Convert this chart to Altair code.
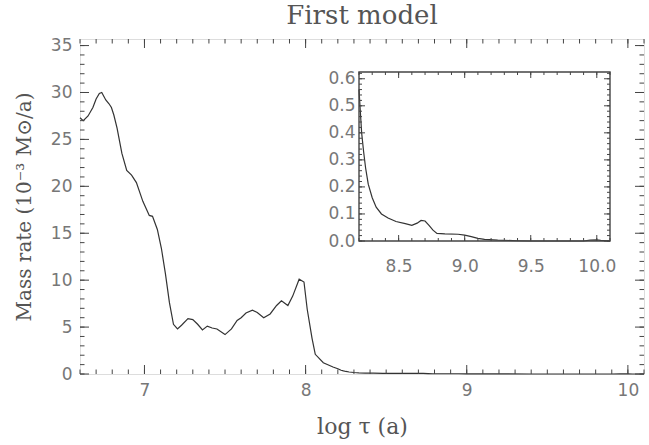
import altair as alt
import pandas as pd

# ---------------- data ----------------
main_x = [6.60, 6.62, 6.65, 6.68, 6.70, 6.72, 6.735, 6.76, 6.78, 6.795, 6.81, 6.83,
          6.86, 6.89, 6.92, 6.95, 6.99, 7.03, 7.05, 7.08, 7.105, 7.13, 7.155, 7.18,
          7.205, 7.23, 7.27, 7.30, 7.33, 7.36, 7.39, 7.42, 7.45, 7.50, 7.54, 7.575,
          7.60, 7.63, 7.67, 7.70, 7.74, 7.78, 7.82, 7.85, 7.89, 7.92, 7.96, 7.99,
          8.01, 8.04, 8.06, 8.11, 8.17]
main_y = [27.3, 27.0, 27.5, 28.4, 29.3, 29.9, 30.0, 29.2, 28.8, 28.4, 27.6, 26.2,
          23.5, 21.7, 21.2, 20.4, 18.4, 16.9, 16.8, 15.4, 13.4, 10.7, 7.6, 5.3,
          4.8, 5.2, 5.9, 5.8, 5.3, 4.7, 5.1, 4.9, 4.8, 4.2, 4.8, 5.7,
          6.0, 6.5, 6.8, 6.55, 6.0, 6.4, 7.3, 7.8, 7.3, 8.3, 10.1, 9.8,
          6.9, 3.8, 2.1, 1.2, 0.75]
tail_x = [8.20, 8.21, 8.22, 8.235, 8.25, 8.27, 8.30, 8.33, 8.37, 8.42, 8.48, 8.55,
          8.60, 8.64, 8.67, 8.70, 8.73, 8.76, 8.79, 8.85, 8.95, 9.00, 9.05, 9.10,
          9.15, 9.25, 9.40, 9.50, 9.90, 9.95, 10.00, 10.03, 10.10]
tail_y = [0.56, 0.48, 0.40, 0.33, 0.27, 0.21, 0.16, 0.125, 0.10, 0.085, 0.072, 0.064,
          0.058, 0.066, 0.076, 0.074, 0.058, 0.040, 0.028, 0.026, 0.025, 0.022, 0.016, 0.010,
          0.006, 0.003, 0.001, 0.0, 0.0, 0.003, 0.004, 0.002, 0.0]

main_xlabels = [7, 8, 9, 10]
main_ylabels = [0, 5, 10, 15, 20, 25, 30, 35]
main_xminor = [round(6.6 + 0.1 * i, 2) for i in range(36)]
main_yminor = list(range(0, 36))
inset_xlabels = [8.5, 9.0, 9.5, 10.0]
inset_ylabels = [0.0, 0.1, 0.2, 0.3, 0.4, 0.5, 0.6]
inset_xminor = [round(8.2 + 0.1 * i, 2) for i in range(20)]
inset_yminor = [round(0.02 * i, 2) for i in range(32)]

df = pd.DataFrame({"x": main_x + tail_x, "y": main_y + tail_y})

# ---------------- layout ----------------
W, H = 564, 335
IN_L, IN_R, IN_T, IN_B = 279, 530, 33, 202
LINE = "#333333"
FRAME = "#444444"
LAB = "#777777"
TIT = "#555555"

sx_main = alt.Scale(domain=[6.6, 10.1], nice=False, zero=False)
sy_main = alt.Scale(domain=[0, 35.7], nice=False, zero=False)
sx_in = alt.Scale(domain=[8.2, 10.1], range=[IN_L, IN_R], nice=False, zero=False)
sy_in = alt.Scale(domain=[0, 0.625], range=[IN_B, IN_T], nice=False, zero=False)

lab_common = dict(labelFont="DejaVu Sans", labelFontSize=17, labelColor=LAB,
                  ticks=False, domain=False, grid=False)

ax_x_main = alt.Axis(values=main_xlabels, format="d", labelPadding=8,
                     title="log τ (a)", titleFont="DejaVu Serif",
                     titleFontSize=22, titleFontWeight="normal",
                     titleColor=TIT, titlePadding=18, **lab_common)
ax_y_main = alt.Axis(values=main_ylabels, format="d", labelPadding=8,
                     title="Mass rate (10⁻³ M⊙/a)", titleFont="DejaVu Serif",
                     titleFontSize=20, titleFontWeight="normal",
                     titleColor=TIT, titlePadding=16, **lab_common)
ax_x_in = alt.Axis(orient="bottom", offset=-(H - IN_B), values=inset_xlabels,
                   format=".1f", labelPadding=17, title="", **lab_common)
ax_y_in = alt.Axis(orient="left", offset=-IN_L, values=inset_ylabels,
                   format=".1f", labelPadding=4, title="", **lab_common)


def vticks(vals, scale, axis, y0, y1, width=1.0):
    return alt.Chart(pd.DataFrame({"x": vals})).mark_rule(
        color=FRAME, strokeWidth=width).encode(
        x=alt.X("x:Q", scale=scale, axis=axis),
        y=alt.value(y0), y2=alt.value(y1))


def hticks(vals, scale, axis, x0, x1, width=1.0):
    return alt.Chart(pd.DataFrame({"y": vals})).mark_rule(
        color=FRAME, strokeWidth=width).encode(
        y=alt.Y("y:Q", scale=scale, axis=axis),
        x=alt.value(x0), x2=alt.value(x1))


main_line = alt.Chart(df).mark_line(color=LINE, strokeWidth=1.2).encode(
    x=alt.X("x:Q", scale=sx_main, axis=ax_x_main),
    y=alt.Y("y:Q", scale=sy_main, axis=ax_y_main),
)

main_group = alt.layer(
    main_line,
    vticks(main_xminor, sx_main, ax_x_main, H, H - 4.5),
    vticks(main_xlabels, sx_main, ax_x_main, H, H - 9),
    vticks(main_xminor, sx_main, ax_x_main, 0, 4.5),
    vticks(main_xlabels, sx_main, ax_x_main, 0, 9),
    hticks(main_yminor, sy_main, ax_y_main, 0, 4.5),
    hticks(main_ylabels, sy_main, ax_y_main, 0, 9),
    hticks(main_yminor, sy_main, ax_y_main, W, W - 4.5),
    hticks(main_ylabels, sy_main, ax_y_main, W, W - 9),
)

inset_line = alt.Chart(df).transform_filter(alt.datum.x >= 8.2).mark_line(
    color=LINE, strokeWidth=1.2).encode(
    x=alt.X("x:Q", scale=sx_in, axis=ax_x_in),
    y=alt.Y("y:Q", scale=sy_in, axis=ax_y_in),
)

inset_frame = alt.Chart(pd.DataFrame({"a": [0]})).mark_rect(
    fillOpacity=0, stroke=FRAME, strokeWidth=1.4).encode(
    x=alt.X(datum=8.2, scale=sx_in, axis=ax_x_in), x2=alt.datum(10.1),
    y=alt.Y(datum=0, scale=sy_in, axis=ax_y_in), y2=alt.datum(0.625))

inset_group = alt.layer(
    inset_line,
    inset_frame,
    vticks(inset_xminor, sx_in, ax_x_in, IN_B, IN_B - 3),
    vticks(inset_xlabels, sx_in, ax_x_in, IN_B, IN_B - 6),
    vticks(inset_xminor, sx_in, ax_x_in, IN_T, IN_T + 3),
    vticks(inset_xlabels, sx_in, ax_x_in, IN_T, IN_T + 6),
    hticks(inset_yminor, sy_in, ax_y_in, IN_L, IN_L + 3),
    hticks(inset_ylabels, sy_in, ax_y_in, IN_L, IN_L + 6),
    hticks(inset_yminor, sy_in, ax_y_in, IN_R, IN_R - 3),
    hticks(inset_ylabels, sy_in, ax_y_in, IN_R, IN_R - 6),
)

chart = alt.layer(main_group, inset_group).resolve_scale(
    x="independent", y="independent"
).properties(
    width=W, height=H,
    title=alt.TitleParams("First model", font="DejaVu Serif", fontSize=26,
                          fontWeight="normal", color=TIT, anchor="middle", offset=8),
    autosize=alt.AutoSizeParams(type="none"),
    padding={"left": 80, "top": 39, "right": 5, "bottom": 71},
).configure_view(stroke=FRAME, strokeWidth=1.5).configure(background="white")

chart.save("out.html", embed_options={"renderer": "svg", "actions": False})
